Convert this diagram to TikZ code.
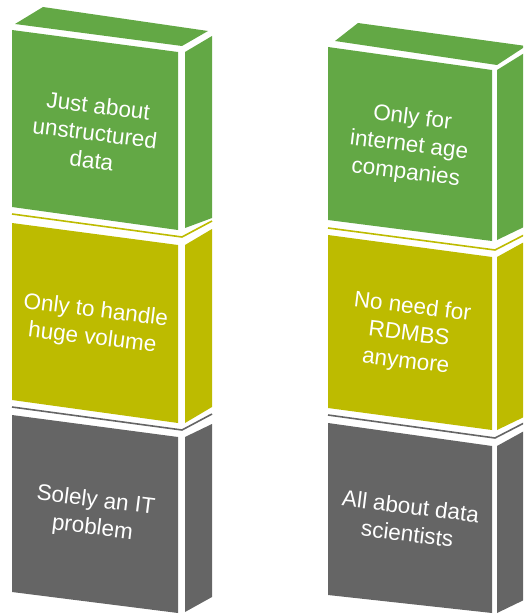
\documentclass[tikz,border=0pt]{standalone}
\usepackage{fontspec}
\setmainfont{Liberation Sans}
\usepackage{xcolor}
\usetikzlibrary{positioning}

\definecolor{slabgreen}{RGB}{99,168,69}
\definecolor{slabolive}{RGB}{189,187,0}
\definecolor{slabgray}{RGB}{101,101,101}

\begin{document}
\begin{tikzpicture}[
  x=1pt, y=-1pt,
  every node/.style={font=\fontsize{22.5}{27.5}\selectfont},
  grn/.style={fill=slabgreen},
  olv/.style={fill=slabolive},
  gry/.style={fill=slabgray},
  rim/.style={line width=1.6pt, line join=round},
  myth/.style={text=white, align=center, rotate=-7, inner sep=0pt},
]
\useasboundingbox (0,0) rectangle (523,615);
\clip (0,0) rectangle (523,615);

% =========================================================
% Left stack
% =========================================================
% --- green slab ---
\fill[grn] (15,24) -- (43,7) -- (208,31) -- (182,46) -- cycle;
\fill[grn] (12,30) -- (178,52) -- (178,230) -- (12,207) -- cycle;
\fill[grn] (185,52) -- (212,36) -- (212,218) -- (185,228) -- cycle;
\node[myth] (l1) at (95,133) {Just about\\unstructured\\data};

% --- olive slab ---
\draw[rim, slabolive] (12,214) -- (182,237) -- (212,221);
\fill[olv] (12,223) -- (178,245) -- (178,423) -- (12,400) -- cycle;
\fill[olv] (185,245) -- (212,229) -- (212,407) -- (185,423) -- cycle;
\node[myth] (l2) at (94,325) {Only to handle\\huge volume};

% --- gray slab ---
\draw[rim, slabgray] (12,407) -- (182,430) -- (212,414);
\fill[gry] (12,415) -- (178,437) -- (178,613) -- (12,592) -- cycle;
\fill[gry] (185,437) -- (212,424) -- (212,597) -- (185,612) -- cycle;
\node[myth] (l3) at (94,515) {Solely an IT\\problem};

% =========================================================
% Right stack
% =========================================================
% --- green slab ---
\fill[grn] (335,41) -- (358,23) -- (526,46) -- (497,65) -- cycle;
\fill[grn] (328,47) -- (492,70) -- (492,241) -- (328,220) -- cycle;
\fill[grn] (497,70) -- (526,52) -- (526,226) -- (497,240) -- cycle;
\node[myth] (r1) at (409,146) {Only for\\internet age\\companies};

% --- olive slab ---
\draw[rim, slabolive] (328,228) -- (495,250) -- (526,234);
\fill[olv] (328,235) -- (492,257) -- (492,430) -- (328,408) -- cycle;
\fill[olv] (497,257) -- (526,241) -- (526,416) -- (497,430) -- cycle;
\node[myth] (r2) at (409,335) {No need for\\RDMBS\\anymore};

% --- gray slab ---
\draw[rim, slabgray] (328,415) -- (495,438) -- (526,422);
\fill[gry] (328,423) -- (492,446) -- (492,613) -- (328,595) -- cycle;
\fill[gry] (497,446) -- (526,430) -- (526,599) -- (497,613) -- cycle;
\node[myth] (r3) at (409,520) {All about data\\scientists};

\end{tikzpicture}
\end{document}
